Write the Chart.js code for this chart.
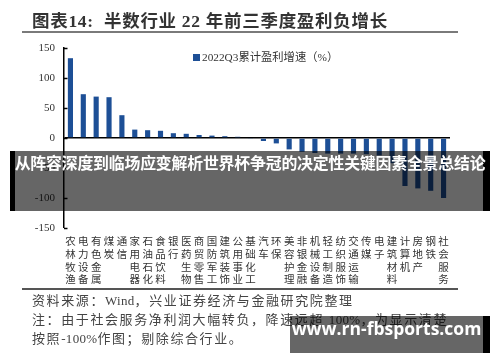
<!DOCTYPE html>
<html>
<head>
<meta charset="utf-8">
<script src="https://cdn.jsdelivr.net/npm/chart.js@4.4.1/dist/chart.umd.min.js"></script>
<style>
  html, body { margin: 0; padding: 0; background: #fff; }
  #wrap { position: relative; width: 500px; height: 362px; overflow: hidden; background: #fff; }
  #c { position: absolute; left: 0; top: 0; }
  .title { position: absolute; left: 32px; top: 7px; font: bold 17.5px "Liberation Serif", "Noto Sans CJK SC", serif; color: #333; white-space: nowrap; letter-spacing: 0.7px; }
  .rule { position: absolute; left: 22px; top: 31px; width: 436px; height: 2px; background: #7a7a7a; }
  .rule2 { position: absolute; left: 22px; top: 288px; width: 436px; height: 1.5px; background: #555; }
  .legend { position: absolute; left: 193px; top: 48px; font: 11.3px "Liberation Serif", "Noto Sans CJK SC", serif; color: #333; white-space: nowrap; }
  .legend i { display: inline-block; width: 7px; height: 7px; background: #1d4f96; margin-right: 2px; vertical-align: 0px; }
  .src { position: absolute; left: 32px; font: 13px "Liberation Serif", "Noto Sans CJK SC", serif; color: #444; white-space: nowrap; letter-spacing: 1.6px; }
  .src b { font-weight: normal; letter-spacing: 0.3px; }
  .ov { position: absolute; left: 15px; top: 151px; width: 468px; height: 60px; background: rgba(0,0,0,0.6); }
  .edgeL { position: absolute; left: 10px; top: 151px; width: 5px; height: 60px; background: #000; }
  .edgeR { position: absolute; left: 483px; top: 151px; width: 7px; height: 60px; background: #000; }
  .btext { position: absolute; left: 0; top: 151px; width: 500px; height: 60px; line-height: 60px; text-align: center; font: bold 15.9px "Noto Sans CJK SC", sans-serif; color: #fff; white-space: nowrap; letter-spacing: -0.2px; }
  .wm { position: absolute; left: 290px; top: 316px; width: 193px; height: 37px; background: rgba(0,0,0,0.6); }
  .wmR { position: absolute; left: 483px; top: 316px; width: 7px; height: 37px; background: #000; }
  .wmt { position: absolute; left: 290px; top: 316px; width: 193px; height: 37px; line-height: 37px; text-align: center; font: bold 17.5px "Open Sans", "Noto Sans", sans-serif; color: #fff; white-space: nowrap; }
</style>
</head>
<body>
<div id="wrap">
  <canvas id="c" width="500" height="362"></canvas>
  <div class="title">图表14:&nbsp; 半数行业 22 年前三季度盈利负增长</div>
  <div class="rule"></div>
  <div class="legend"><i></i>2022Q3累计盈利增速（%）</div>
  <div class="rule2"></div>
  <div class="src" style="top:290px">资料来源：<b>Wind</b>，兴业证券经济与金融研究院整理</div>
  <div class="src" style="top:309px">注：由于社会服务净利润大幅转负，降速远超 <b>100%</b>，为显示清楚</div>
  <div class="src" style="top:328px">按照<b>-100%</b>作图；剔除综合行业。</div>
  <div class="ov"></div>
  <div class="edgeL"></div>
  <div class="edgeR"></div>
  <div class="btext">从阵容深度到临场应变解析世界杯争冠的决定性关键因素全景总结论</div>
  <div class="wm"></div>
  <div class="wmR"></div>
  <div class="wmt">www.rn-fbsports.com</div>
</div>
<script>
const categories = ['农林牧渔','电力设备','有色金属','煤炭','通信','家用电器','石油石化','食品饮料','银行','医药生物','商贸零售','国防军工','建筑装饰','公用事业','基础化工','汽车','环保','美容护理','非银金融','机械设备','轻工制造','纺织服饰','交通运输','传媒','电子','建筑材料','计算机','房地产','钢铁','社会服务'];
const growth2022Q3 = [133, 73, 69, 68, 38, 14, 13, 12, 8, 7, 5, 4, 3, 2, -1, -5, -9, -19, -23, -25, -26, -26, -26, -27, -29, -42, -80, -84, -88, -100];
const seriesName = '2022Q3累计盈利增速（%）';
const yTicks = [150, 100, 50, 0, -50, -100, -150];

const labelLines = categories.map(s => Array.from(s));

const innerTicks = {
  id: 'innerTicks',
  afterDraw(chart) {
    const y = chart.scales.y, ctx = chart.ctx;
    ctx.save();
    ctx.strokeStyle = '#000';
    ctx.lineWidth = 1.5;
    yTicks.forEach(v => {
      const py = Math.round(y.getPixelForValue(v)) + 0.5;
      ctx.beginPath();
      ctx.moveTo(y.right, py);
      ctx.lineTo(y.right + 3.5, py);
      ctx.stroke();
    });
    ctx.restore();
  }
};

new Chart(document.getElementById('c'), {
  type: 'bar',
  data: {
    labels: labelLines,
    datasets: [{
      label: seriesName,
      data: growth2022Q3,
      backgroundColor: '#1d4f96',
      borderWidth: 0,
      barPercentage: 0.4,
      categoryPercentage: 1.0
    }]
  },
  options: {
    responsive: false,
    animation: false,
    devicePixelRatio: 1,
    layout: { padding: { top: 48, right: 50, left: 0, bottom: 0 } },
    plugins: { legend: { display: false }, tooltip: { enabled: false } },
    scales: {
      x: {
        grid: { display: false, drawTicks: false },
        border: { display: false },
        ticks: {
          autoSkip: false, maxRotation: 0, minRotation: 0, padding: 7,
          color: '#333',
          font: { family: '"Noto Sans CJK SC", sans-serif', size: 10.5, lineHeight: 1.21 }
        },
        afterFit(s) { s.height = 134; }
      },
      y: {
        min: -150, max: 150,
        afterBuildTicks(s) { s.ticks = yTicks.map(v => ({ value: v })); },
        grid: {
          drawTicks: false,
          color: c => (c.tick && c.tick.value === 0) ? '#000' : 'rgba(0,0,0,0)',
          lineWidth: c => (c.tick && c.tick.value === 0) ? 1.5 : 0
        },
        border: { display: true, color: '#000', width: 1.5 },
        ticks: {
          padding: 9, color: '#333',
          font: { family: '"Liberation Serif", serif', size: 11 }
        },
        afterFit(s) { s.width = 64; }
      }
    }
  },
  plugins: [innerTicks]
});
</script>
</body>
</html>
